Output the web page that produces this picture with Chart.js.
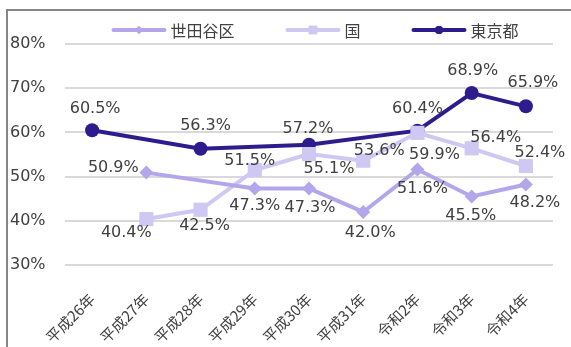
<!DOCTYPE html>
<html>
<head>
<meta charset="utf-8">
<script src="https://cdn.jsdelivr.net/npm/chart.js@4.4.1/dist/chart.umd.min.js"></script>
<style>
  html, body { margin: 0; padding: 0; background: #fff; }
  #wrap { position: relative; width: 571px; height: 347px; overflow: hidden; }
  #frame { position: absolute; left: 6px; top: 9px; width: 640px; height: 420px; border: 2px solid #868686; }
  #c { position: absolute; left: 0; top: 0; }
</style>
</head>
<body>
<div id="wrap">
  <div id="frame"></div>
  <canvas id="c" width="571" height="347"></canvas>
</div>
<script>
/* ---------- データ ---------- */
const years = ['平成26年', '平成27年', '平成28年', '平成29年', '平成30年', '平成31年', '令和2年', '令和3年', '令和4年'];
const setagaya = [null, 50.9, null, 47.3, 47.3, 42.0, 51.6, 45.5, 48.2];
const kuni     = [null, 40.4, 42.5, 51.5, 55.1, 53.6, 59.9, 56.4, 52.4];
const tokyo    = [60.5, null, 56.3, null, 57.2, null, 60.4, 68.9, 65.9];
const yTicks   = [30, 40, 50, 60, 70, 80];

/* ラベル位置のずらし量 [dx, dy] */
const offSetagaya = [null, [-33, -5], null, [0, 17], [1, 19], [7, 21], [5, 19], [-1, 19], [9, 18]];
const offKuni     = [null, [-20, 14], [4, 16], [-5, -9], [20, 15], [16, -10], [17, 22], [24, -10], [14, -13]];
const offTokyo    = [[3, -21], null, [5, -23], null, [-1, -16], null, [0, -22], [1, -22], [7, -23]];

const C_SETAGAYA = '#b3a6ea';
const C_KUNI = '#cfc8f2';
const C_TOKYO = '#2e1c8f';
const TXT = '#404040';
const NUM_FONT = "'DejaVu Sans', Verdana, sans-serif";
const JP_FONT = "'Noto Sans CJK JP', sans-serif";

/* ---------- 値ラベル ---------- */
const valueLabels = {
  id: 'valueLabels',
  afterDatasetsDraw(chart) {
    const ctx = chart.ctx;
    ctx.save();
    ctx.font = `16px ${NUM_FONT}`;
    ctx.fillStyle = TXT;
    ctx.textAlign = 'center';
    ctx.textBaseline = 'middle';
    chart.data.datasets.forEach((ds, di) => {
      const meta = chart.getDatasetMeta(di);
      ds.data.forEach((v, i) => {
        if (v == null) return;
        const o = ds.labelOffsets[i] || [0, -20];
        const pt = meta.data[i];
        ctx.fillText(v.toFixed(1) + '%', pt.x + o[0], pt.y + o[1]);
      });
    });
    ctx.restore();
  }
};

/* ---------- 凡例（線＋マーカー） ---------- */
const lineLegend = {
  id: 'lineLegend',
  afterDraw(chart) {
    const ctx = chart.ctx;
    const lineLen = 55, gap = 4, spacing = 51, y = 30;
    ctx.save();
    ctx.font = `16px ${JP_FONT}`;
    const items = chart.data.datasets.map(ds => ({ ds, w: lineLen + gap + ctx.measureText(ds.label).width }));
    const total = items.reduce((s, it) => s + it.w, 0) + spacing * (items.length - 1);
    let x = (chart.chartArea.left + chart.chartArea.right) / 2 + 6 - total / 2;
    items.forEach(({ ds, w }) => {
      ctx.strokeStyle = ds.borderColor;
      ctx.lineWidth = 4;
      ctx.lineCap = 'round';
      ctx.beginPath();
      ctx.moveTo(x + 2, y);
      ctx.lineTo(x + lineLen - 2, y);
      ctx.stroke();
      ctx.fillStyle = ds.borderColor;
      Chart.helpers.drawPoint(ctx, { pointStyle: ds.pointStyle, radius: ds.legendRadius, borderWidth: 0 }, x + lineLen / 2, y);
      ctx.fill();
      ctx.fillStyle = TXT;
      ctx.textAlign = 'left';
      ctx.textBaseline = 'middle';
      ctx.fillText(ds.label, x + lineLen + gap, y + 1);
      x += w + spacing;
    });
    ctx.restore();
  }
};

function series(label, data, color, style, radius, legendRadius, offsets) {
  return {
    label, data,
    borderColor: color, backgroundColor: color,
    borderWidth: 4,
    pointStyle: style, pointRadius: radius, pointHoverRadius: radius,
    pointBorderWidth: 0,
    spanGaps: true,
    tension: 0,
    legendRadius,
    labelOffsets: offsets
  };
}

new Chart(document.getElementById('c'), {
  type: 'line',
  data: {
    labels: years,
    datasets: [
      series('世田谷区', setagaya, C_SETAGAYA, 'rectRot', 7, 4, offSetagaya),
      series('国', kuni, C_KUNI, 'rect', 10, 6, offKuni),
      series('東京都', tokyo, C_TOKYO, 'circle', 7, 4, offTokyo)
    ]
  },
  options: {
    responsive: false,
    animation: false,
    devicePixelRatio: 1,
    layout: { padding: { left: 10, right: 18, top: 44, bottom: 0 } },
    plugins: { legend: { display: false }, tooltip: { enabled: false } },
    scales: {
      x: {
        offset: true,
        grid: { display: false },
        border: { display: false },
        ticks: { minRotation: 45, maxRotation: 45, autoSkip: false, padding: 17, color: TXT, font: { family: JP_FONT, size: 15 } },
        afterFit: s => { s.height = 82; }
      },
      y: {
        min: yTicks[0], max: yTicks[yTicks.length - 1],
        afterBuildTicks: s => { s.ticks = yTicks.map(v => ({ value: v })); },
        grid: { color: '#d9d9d9', lineWidth: 2, drawTicks: false },
        border: { display: false },
        ticks: { crossAlign: 'far', color: TXT, font: { family: NUM_FONT, size: 16 }, callback: v => v + '%' },
        afterFit: s => { s.width = 55; }
      }
    }
  },
  plugins: [valueLabels, lineLegend]
});
</script>
</body>
</html>
